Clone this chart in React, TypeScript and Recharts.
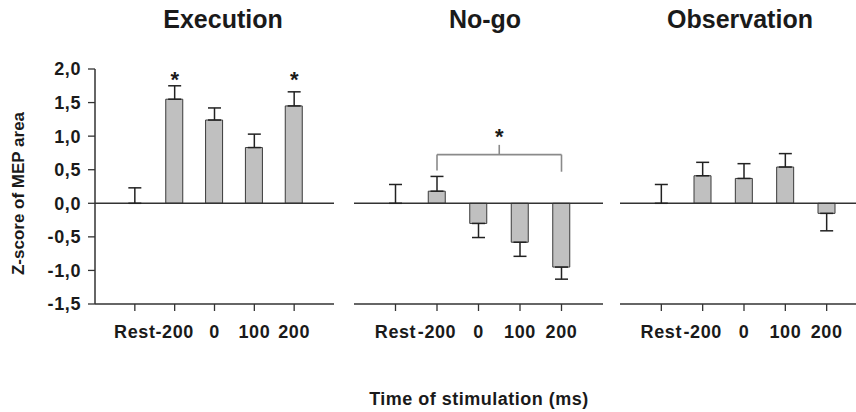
import React from 'react';
import {
  ComposedChart,
  Bar,
  Scatter,
  XAxis,
  YAxis,
  ErrorBar,
  ReferenceLine,
  ReferenceDot,
} from 'recharts';

const categories = ['Rest', '-200', '0', '100', '200'];
const positions = [0, 1, 2, 3, 4];

const executionValues = [0, 1.55, 1.24, 0.83, 1.45];
const executionErrors = [0.23, 0.2, 0.18, 0.2, 0.21];
const executionStars = [1, 4];

const nogoValues = [0, 0.18, -0.3, -0.58, -0.95];
const nogoErrors = [0.28, 0.22, 0.21, 0.21, 0.18];
const nogoStars = [2.5];

const observationValues = [0, 0.41, 0.37, 0.54, -0.15];
const observationErrors = [0.28, 0.2, 0.22, 0.2, 0.26];
const observationStars: number[] = [];

const yTicks = [-1.5, -1, -0.5, 0, 0.5, 1, 1.5, 2];
const STAR_Y_EXEC = 1.91;
const STAR_Y_NOGO = 1.07;

// bracket for the No-go comparison (-200 vs 200)
const bracketLeft = 1;
const bracketRight = 4;
const bracketMid = 2.5;
const bracketTop = 0.725;
const bracketLegLeft = 0.49;
const bracketLegRight = 0.47;
const bracketMidTop = 0.87;

const FONT = '"Liberation Sans", Arial, Helvetica, sans-serif';
const INK = '#1a1a1a';

const buildData = (values: number[], errors: number[]) =>
  positions.map((p, i) => ({
    pos: p,
    name: categories[i],
    value: values[i],
    // one-sided error: outward from the bar
    err: values[i] >= 0 ? [0, errors[i]] : [errors[i], 0],
  }));

const fmt = (v: number) => v.toFixed(1).replace('.', ',');

const Star = (props: any) => (
  <text
    x={props.cx}
    y={props.cy}
    dy="0.56em"
    textAnchor="middle"
    fontSize={22}
    fontWeight="bold"
    fontFamily={FONT}
    fill={INK}
  >
    *
  </text>
);

const NoDot = () => <g />;

const YLabel = (props: any) => {
  const vb = props.viewBox || { x: 0, y: 69, height: 235 };
  const cx = 24.3;
  const cy = vb.y + vb.height / 2 + 7;
  return (
    <text
      x={cx}
      y={cy}
      transform={`rotate(-90 ${cx} ${cy})`}
      textAnchor="middle"
      fontSize={17}
      fontWeight="bold"
      fontFamily={FONT}
      fill={INK}
    >
      Z-score of MEP area
    </text>
  );
};

interface PanelProps {
  values: number[];
  errors: number[];
  stars: number[];
  starY: number;
  left: number;
  width: number;
  showY?: boolean;
  bracket?: boolean;
}

const Panel: React.FC<PanelProps> = ({ values, errors, stars, starY, left, width, showY, bracket }) => {
  const data = buildData(values, errors);
  const tickStyle = { fill: INK, fontSize: 18, fontWeight: 'bold', fontFamily: FONT, letterSpacing: 0.6 };
  const bracketStroke = { stroke: '#8a8a8a', strokeWidth: 1.6 };
  return (
    <div style={{ position: 'absolute', left, top: 0 }}>
      <ComposedChart
        width={width}
        height={350}
        data={data}
        margin={{ top: 69, right: showY ? 6 : 0, left: 0, bottom: 0 }}
      >
        <XAxis
          dataKey="pos"
          type="number"
          domain={[-1, 5]}
          ticks={positions}
          tickFormatter={(v: number) => categories[v]}
          height={46}
          tickSize={7}
          tickMargin={14}
          interval={0}
          axisLine={{ stroke: '#333', strokeWidth: 1.5 }}
          tickLine={{ stroke: '#333', strokeWidth: 1.3 }}
          tick={tickStyle}
        />
        <YAxis
          hide={!showY}
          domain={[-1.5, 2]}
          ticks={yTicks}
          width={95}
          tickSize={7}
          tickMargin={7}
          tickFormatter={fmt}
          axisLine={{ stroke: '#333', strokeWidth: 1.5 }}
          tickLine={{ stroke: '#333', strokeWidth: 1.3 }}
          tick={tickStyle}
          label={showY ? <YLabel /> : undefined}
        />
        <ReferenceLine y={0} stroke="#333" strokeWidth={1.5} />
        <Bar
          dataKey="value"
          barSize={17}
          fill="#c0c0c0"
          stroke="#3a3a3a"
          strokeWidth={1}
          isAnimationActive={false}
        />
        <Scatter dataKey="value" shape={NoDot} isAnimationActive={false}>
          <ErrorBar dataKey="err" direction="y" width={6.5} stroke="#222" strokeWidth={1.5} />
        </Scatter>
        {bracket && (
          <>
            <ReferenceLine segment={[{ x: bracketLeft, y: bracketTop }, { x: bracketRight, y: bracketTop }]} {...bracketStroke} />
            <ReferenceLine segment={[{ x: bracketLeft, y: bracketLegLeft }, { x: bracketLeft, y: bracketTop }]} {...bracketStroke} />
            <ReferenceLine segment={[{ x: bracketRight, y: bracketLegRight }, { x: bracketRight, y: bracketTop }]} {...bracketStroke} />
            <ReferenceLine segment={[{ x: bracketMid, y: bracketTop }, { x: bracketMid, y: bracketMidTop }]} {...bracketStroke} />
          </>
        )}
        {stars.map((p) => (
          <ReferenceDot key={`star-${p}`} x={p} y={starY} r={0} shape={Star} />
        ))}
      </ComposedChart>
    </div>
  );
};

const titleStyle = (center: number): React.CSSProperties => ({
  position: 'absolute',
  left: center - 100,
  width: 200,
  top: 7,
  lineHeight: '25px',
  textAlign: 'center',
  fontSize: 25,
  fontWeight: 'bold',
  color: INK,
});

export default function App() {
  return (
    <div
      style={{
        position: 'absolute',
        left: 0,
        top: 0,
        width: 856,
        height: 412,
        overflow: 'hidden',
        background: '#fff',
        fontFamily: FONT,
      }}
    >
      <div style={titleStyle(223)}>Execution</div>
      <div style={titleStyle(485)}>No-go</div>
      <div style={titleStyle(740)}>Observation</div>

      <Panel values={executionValues} errors={executionErrors} stars={executionStars} starY={STAR_Y_EXEC} left={0} width={340} showY />
      <Panel values={nogoValues} errors={nogoErrors} stars={nogoStars} starY={STAR_Y_NOGO} left={354} width={249} bracket />
      <Panel values={observationValues} errors={observationErrors} stars={observationStars} starY={0} left={620} width={248} />

      <div
        style={{
          position: 'absolute',
          left: 279,
          width: 400,
          top: 390,
          lineHeight: '18px',
          textAlign: 'center',
          fontSize: 18,
          fontWeight: 'bold',
          letterSpacing: 0.5,
          color: INK,
        }}
      >
        Time of stimulation (ms)
      </div>
    </div>
  );
}
